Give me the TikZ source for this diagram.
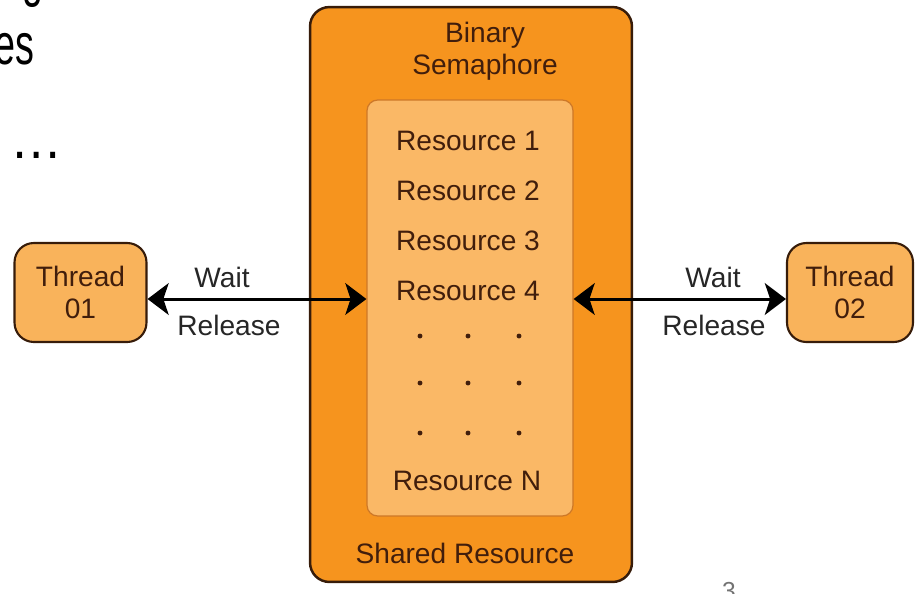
\documentclass[tikz,border=0pt]{standalone}
\usepackage{fontspec}
\setmainfont{Liberation Sans}
\usetikzlibrary{arrows.meta,positioning}

\definecolor{semorange}{RGB}{246,148,30}
\definecolor{resorange}{RGB}{250,184,102}
\definecolor{resedge}{RGB}{205,120,40}
\definecolor{boxedge}{RGB}{55,28,10}
\definecolor{boxtext}{RGB}{65,30,12}

\tikzset{
  semabox/.style={draw=boxedge,line width=1.4pt,fill=semorange,rounded corners=11pt,
    minimum width=6.44cm,minimum height=11.5cm,inner sep=0pt},
  resbox/.style={draw=resedge,line width=0.7pt,fill=resorange,rounded corners=6pt,
    minimum width=4.12cm,minimum height=8.32cm,inner sep=0pt},
  threadbox/.style={draw=boxedge,line width=1.2pt,fill=resorange!85!semorange,rounded corners=11pt,
    minimum height=1.98cm,inner sep=0pt,align=center,text=boxtext,font=\fontsize{16}{18}\selectfont},
  lbl/.style={text=boxtext,font=\fontsize{16}{18}\selectfont,inner sep=0pt},
  armlbl/.style={text=black!85,font=\fontsize{16}{18}\selectfont,inner sep=0pt},
  link/.style={line width=1.7pt,{Stealth[length=12pt,width=18pt,inset=3pt]}-{Stealth[length=12pt,width=18pt,inset=3pt]}},
  slide/.style={font=\fontsize{33}{36}\selectfont,inner sep=0pt}
}

\begin{document}
\begin{tikzpicture}[x=0.02cm,y=-0.02cm]
\useasboundingbox (0,0) rectangle (916,593);

% bits of slide text around the figure
\node[slide,anchor=base,xscale=0.65] (gtail) at (33,-5) {g};
\node[slide,anchor=base east,xscale=0.65] (slidees) at (35,64) {es};
\node[slide,anchor=base west,xscale=0.9] (slidedots) at (10,158) {…};
\node[font=\fontsize{14}{16}\selectfont,text=black!55,anchor=base,inner sep=0pt] (pageno) at (729,599) {3};

% semaphore with the shared resource
\node[semabox] (sema) at (471,294.5) {};
\node[resbox] (res) at (470,308) {};
\node[lbl] (binary) at (485,35) {Binary};
\node[lbl] (semaphore) at (485,67) {Semaphore};
\foreach \i/\yy in {1/141,2/191,3/241,4/291}
  \node[lbl] (res\i) at (468,\yy) {Resource \i};
\foreach \yy in {336,383,433}
  \foreach \xx in {420,468,519}
    \fill[boxtext] (\xx,\yy) circle (1.4pt);
\node[lbl] (resN) at (467,481) {Resource N};
\node[lbl] (shared) at (465,553) {Shared Resource};

% threads
\node[threadbox,minimum width=2.64cm] (t1) at (80.5,292.5) {Thread\\01};
\node[threadbox,minimum width=2.52cm] (t2) at (850,292.5) {Thread\\02};

\coordinate (lvl) at (0,299);
\draw[link] (t1.east |- lvl) -- (res.west |- lvl);
\draw[link] (res.east |- lvl) -- (t2.west |- lvl);

\node[armlbl] (wait1) at (222,277) {Wait};
\node[armlbl] (rel1) at (229,325) {Release};
\node[armlbl] (wait2) at (713,277) {Wait};
\node[armlbl] (rel2) at (714,325) {Release};
\end{tikzpicture}
\end{document}
